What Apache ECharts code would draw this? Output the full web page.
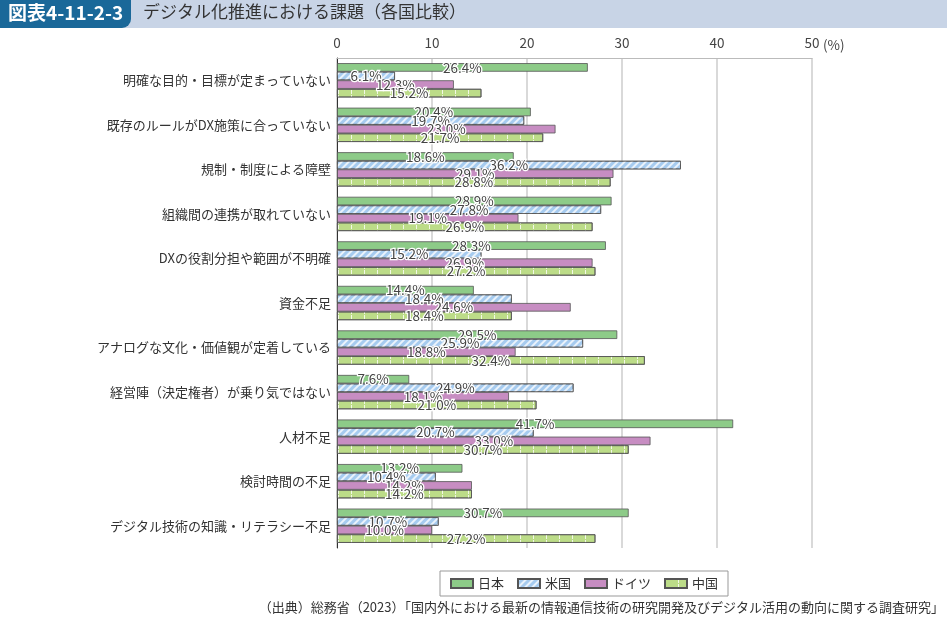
<!DOCTYPE html>
<html>
<head>
<meta charset="utf-8">
<script src="https://cdn.jsdelivr.net/npm/echarts@6/dist/echarts.min.js"></script>
<style>
html,body{margin:0;padding:0;background:#fff;}
#main{width:947px;height:625px;}
</style>
</head>
<body>
<div id="main"></div>
<script>
// 課題の項目（上から順）
var categories = [
	'明確な目的・目標が定まっていない',
	'既存のルールがDX施策に合っていない',
	'規制・制度による障壁',
	'組織間の連携が取れていない',
	'DXの役割分担や範囲が不明確',
	'資金不足',
	'アナログな文化・価値観が定着している',
	'経営陣（決定権者）が乗り気ではない',
	'人材不足',
	'検討時間の不足',
	'デジタル技術の知識・リテラシー不足'
];
var countries = ['日本', '米国', 'ドイツ', '中国'];
var japan   = [26.4, 20.4, 18.6, 28.9, 28.3, 14.4, 29.5, 7.6, 41.7, 13.2, 30.7];
var usa     = [6.1, 19.7, 36.2, 27.8, 15.2, 18.4, 25.9, 24.9, 20.7, 10.4, 10.7];
var germany = [12.3, 23.0, 29.1, 19.1, 26.9, 24.6, 18.8, 18.1, 33.0, 14.2, 10.0];
var china   = [15.2, 21.7, 28.8, 26.9, 27.2, 18.4, 32.4, 21.0, 30.7, 14.2, 27.2];

var FONT = '"Noto Sans CJK JP", "Noto Sans", sans-serif';

var chart = echarts.init(document.getElementById('main'));

//系列の共通設定
function makeSeries(name, data, color, decal){
	var s = {
		name: name,
		type: 'bar',
		data: data,
		barGap: '0%',
		barCategoryGap: '23%',
		itemStyle: {
			color: color,
			borderColor: '#555',
			borderWidth: 0.8
		},
		label: {
			show: true,
			position: 'inside',
			formatter: function(p){ return p.value.toFixed(1) + '%'; },
			color: '#444',
			fontFamily: FONT,
			fontSize: 13.5,
			textBorderColor: '#fff',
			textBorderWidth: 2.5
		}
	};
	if(decal){
		s.itemStyle.decal = decal;
	}
	return s;
}

var option = {
	animation: false,
	textStyle: {fontFamily: FONT},
	grid: {left: 337, right: 135, top: 58, bottom: 77},
	xAxis: {
		type: 'value',
		position: 'top',
		min: 0,
		max: 50,
		interval: 10,
		axisLine: {show: true, lineStyle: {color: '#bbb', width: 1}},
		axisTick: {show: false},
		axisLabel: {color: '#444', fontSize: 13.5, margin: 8, fontFamily: FONT},
		splitLine: {show: true, lineStyle: {color: '#ccc', width: 1.5}}
	},
	yAxis: {
		type: 'category',
		data: categories,
		inverse: true,
		axisLine: {show: true, lineStyle: {color: '#333', width: 1}},
		axisTick: {show: false},
		axisLabel: {color: '#333', fontSize: 13, margin: 6, fontFamily: FONT}
	},
	legend: {
		data: countries,
		bottom: 29,
		left: 440,
		icon: 'rect',
		itemWidth: 22,
		itemHeight: 9,
		itemGap: 13,
		padding: [6, 10, 6, 10],
		borderColor: '#999',
		borderWidth: 1,
		textStyle: {color: '#333', fontSize: 13, fontFamily: FONT}
	},
	graphic: [
		{type: 'rect', shape: {x: 0, y: 0, width: 947, height: 28}, style: {fill: '#c8d4e6'}},
		{type: 'rect', shape: {x: 0, y: 0, width: 131, height: 28, r: [0, 0, 9, 0]}, style: {fill: '#1a6899'}},
		{type: 'text', left: 8, top: 3, style: {text: '図表4-11-2-3', fill: '#fff', font: 'bold 19px ' + FONT}},
		{type: 'text', left: 143, top: 3, style: {text: 'デジタル化推進における課題（各国比較）', fill: '#333', font: '17px ' + FONT}},
		{type: 'text', left: 823, top: 38, style: {text: '(%)', fill: '#444', font: '13.5px ' + FONT}},
		{type: 'text', right: 3, top: 601, style: {text: '（出典）総務省（2023）「国内外における最新の情報通信技術の研究開発及びデジタル活用の動向に関する調査研究」', fill: '#333', font: '13px ' + FONT}}
	],
	series: [
		makeSeries(countries[0], japan, '#8dcb88'),
		makeSeries(countries[1], usa, '#a6cbef', {
			color: 'rgba(255,255,255,0.75)',
			dashArrayX: [1, 0],
			dashArrayY: [2, 3],
			rotation: -Math.PI / 4
		}),
		makeSeries(countries[2], germany, '#c78dc2'),
		makeSeries(countries[3], china, '#bcdc88', {
			color: 'rgba(255,255,255,0.8)',
			symbol: 'rect',
			symbolSize: 1,
			dashArrayX: [1, 12],
			dashArrayY: [4, 1]
		})
	]
};

chart.setOption(option);
</script>
</body>
</html>
